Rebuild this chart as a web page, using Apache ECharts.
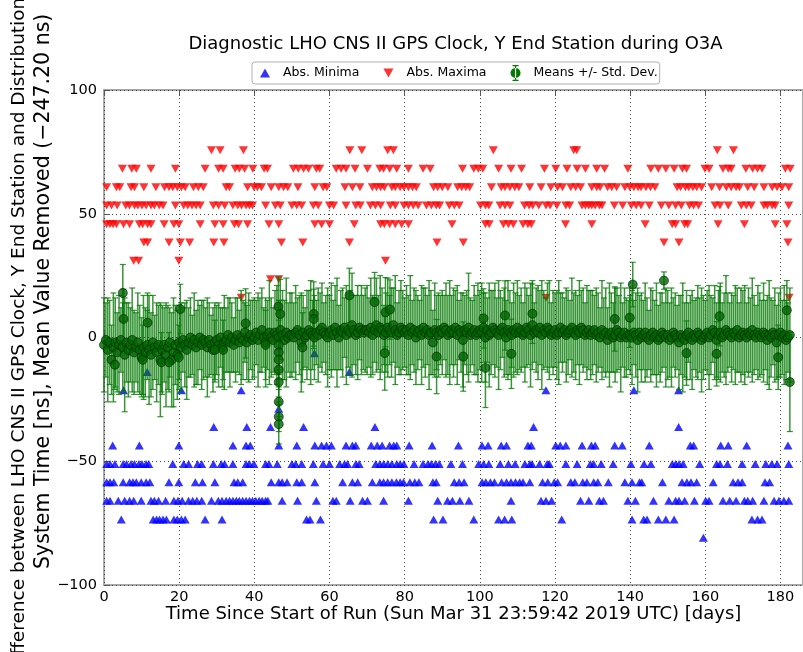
<!DOCTYPE html>
<html><head><meta charset="utf-8">
<script src="https://cdn.jsdelivr.net/npm/echarts@6/dist/echarts.min.js"></script>
<style>html,body{margin:0;padding:0;background:#fff}#c{width:803px;height:652px}</style>
</head><body><div id="c"></div><script>
// ---------- Absolute maxima: days at which a maximum sits on each quantised level (ns)
const maxDays16 = [36.5, 117.6, 182.3];
const maxDays23 = [44.3, 46.5];
const maxDays31 = [7.9, 9.2, 19.9, 74.9];
const maxDays38 = [10.6, 11.6, 17.3, 20.3, 22.8, 29.2, 31.9, 47.2, 52.9, 65.3, 88.6, 95.6, 149.0, 153.0, 182.0];
const maxDays46 = [0.7,1.6,2.4,3.3,5.2,6.8,9.4,10.3,11.6,12.5,16.0,18.6,19.9,25.6,29.5,31.7,34.7,35.8,38.2,43.9,46.5,56.1,57.9,60.0,66.6,73.6,74.6,76.0,77.5,79.2,81.0,92.6,101.5,102.5,106.3,107.6,108.9,111.5,112.8,113.7,122.8,129.8,144.0,151.2,152.1,154.5,155.3,163.4,170.4,178.6,181.7];
const maxDays53 = [0.7,2.0,3.5,5.8,6.8,8.1,9.0,10.1,11.2,12.5,13.4,14.7,15.7,19.0,21.2,22.3,23.4,24.5,25.6,29.1,30.5,32.1,34.3,35.6,36.6,37.8,38.7,39.5,43.0,45.6,46.9,50.0,51.3,52.6,55.7,57.0,60.0,61.1,64.4,67.0,68.2,70.9,72.2,73.6,76.2,77.5,79.8,81.0,82.3,83.6,85.8,87.1,88.4,89.3,91.9,93.2,94.5,100.2,101.5,102.4,105.4,106.7,108.0,111.9,113.1,114.1,115.7,117.6,118.7,120.5,122.9,123.9,127.2,128.1,129.0,129.8,130.7,131.8,132.5,135.8,138.0,140.3,141.6,142.9,145.1,148.3,150.3,152.1,153.6,155.8,156.9,158.2,162.6,163.9,166.1,169.6,170.9,172.2,175.6,176.5,177.8,178.6,182.2];
const maxDays61 = [0.7,3.3,4.2,7.2,8.1,10.6,13.8,16.1,17.3,18.3,19.5,20.6,21.6,23.8,25.1,26.4,32.5,33.4,38.2,39.9,40.8,41.9,44.5,46.5,47.8,48.9,51.6,56.1,58.3,59.3,64.1,66.1,68.1,71.4,72.5,73.6,74.6,76.6,77.5,78.8,79.8,81.0,82.1,83.1,87.7,88.8,90.0,91.5,94.1,95.2,96.3,97.3,103.1,105.7,106.7,108.0,109.3,110.4,113.3,116.3,118.9,120.7,122.0,124.2,125.5,126.8,129.8,131.1,132.0,134.0,135.1,136.4,138.6,139.9,141.0,142.1,142.9,144.2,145.4,146.6,152.5,153.4,154.7,155.6,156.7,157.7,159.0,161.7,163.8,165.6,166.9,168.2,169.1,171.3,173.0,175.6,177.8,179.1,180.4,182.2];
const maxDays68 = [4.9,7.4,8.6,12.5,19.0,26.9,30.5,31.7,34.9,36.0,37.4,39.6,42.6,43.5,50.4,51.7,53.1,54.4,56.5,57.4,61.8,63.1,64.4,66.8,70.1,73.4,74.4,76.0,77.9,81.0,84.9,86.8,95.4,98.4,99.6,100.8,105.0,108.3,111.1,117.2,120.2,123.2,125.9,128.1,131.1,133.2,139.4,145.5,147.5,149.5,151.7,153.9,155.0,159.9,161.0,164.7,166.1,166.9,170.8,172.6,173.9,175.1,181.3,182.6];
const maxDays76 = [28.6,30.9,37.1,65.4,68.6,75.5,77.0,103.6,125.0,125.8,163.2,167.5];
const maxLevels = [16.1, 23.5, 31.0, 38.4, 45.8, 53.3, 60.7, 68.2, 75.7];

// ---------- Absolute minima
const minDays81 = [159.5];
const minDays73 = [4.6,13.1,14.0,14.8,15.7,16.6,18.6,19.5,20.6,21.6,26.9,31.4,53.9,54.8,57.6,87.7,90.2,98.4,105.0,106.6,108.5,121.8,140.5,143.6,144.5,147.5,149.5,151.7,172.4,173.9,175.1];
const minDays66 = [0.7,1.6,3.8,5.5,6.8,7.9,9.9,12.5,13.4,14.5,16.4,18.6,19.7,20.8,22.5,23.6,24.7,26.0,28.6,30.4,31.4,32.5,33.4,34.3,35.2,36.0,36.9,37.8,38.7,39.5,40.4,41.3,42.1,43.0,43.6,47.4,51.5,56.5,60.9,61.8,65.5,68.8,70.1,74.4,81.0,88.8,91.4,92.7,94.7,97.1,108.3,116.3,117.6,119.1,126.8,129.0,131.8,132.9,139.4,141.4,146.2,150.3,152.1,153.0,154.5,157.1,160.1,161.0,164.7,166.5,168.2,170.4,171.3,172.6,175.6,178.3,179.6,180.9,182.2];
const minDays58 = [0.7,1.6,2.6,5.1,6.8,7.7,8.6,9.9,11.2,12.2,17.3,19.9,24.3,26.2,29.5,34.6,35.6,36.9,44.5,46.5,47.4,48.7,51.3,52.6,56.1,63.5,66.1,67.5,71.4,73.4,74.4,75.5,76.6,77.8,78.8,79.7,81.4,82.7,83.8,87.5,88.4,93.2,94.5,95.8,100.6,101.6,102.8,103.9,105.8,107.1,108.3,109.5,110.6,111.5,113.3,116.7,118.1,119.8,120.7,124.2,125.3,127.4,128.5,130.3,131.4,134.2,138.6,140.5,142.5,143.1,148.6,153.8,155.1,156.2,157.7,162.1,167.4,168.7,169.8,175.9,177.1];
const minDays51 = [0.7,1.6,2.9,5.1,6.0,7.2,8.1,9.3,10.1,11.2,11.9,18.3,21.2,22.5,24.9,26.0,29.1,31.2,32.1,34.3,37.8,38.7,39.9,43.0,43.9,46.1,50.0,51.0,52.6,55.7,58.3,60.0,62.7,64.0,64.8,67.0,67.9,72.3,73.4,74.4,75.5,76.6,77.9,78.8,79.8,82.5,84.9,86.2,87.1,88.2,89.2,92.3,95.4,99.7,101.0,102.4,105.4,107.6,109.4,112.0,113.3,113.9,115.9,117.9,118.5,122.9,125.9,129.4,130.3,132.3,135.5,140.2,143.7,145.5,151.2,152.1,153.0,154.1,158.5,163.0,163.9,165.9,169.8,173.3,176.1,177.7,179.1,182.2];
const minDays44 = [2.3,9.4,19.9,34.3,37.8,38.9,46.5,51.3,56.1,57.9,59.2,60.5,64.4,66.1,67.0,71.1,72.7,74.0,76.0,77.1,77.9,81.2,87.3,94.3,100.6,102.2,105.7,107.1,112.8,113.7,120.2,121.4,122.9,127.2,129.7,130.7,135.9,137.9,145.1,156.0,156.9,164.1,166.1,171.0,182.0];
const minDays36 = [29.2,38.0,44.3,53.1,72.1,114.3,152.9];
const minDays29 = [46.5];
const minDays21 = [5.2,20.6,36.5,117.6,141.0,152.9];
const minDays14 = [11.5,65.3];
const minDays6 = [56.0];
const minDays1 = [149.0];
const minLevels = [-80.9,-73.5,-66.0,-58.5,-51.1,-43.6,-36.2,-28.8,-21.3,-13.9,-6.4,1.0];

// ---------- Means and standard deviations, one sample every STEP days from day 0
const STEP = 0.5;
const means = [
-3,-1,-5,-2,-9,-4,-2,-6,-3,-1,-4,-7,-2,-5,-3,-1,-6,-4,-2,-5,
-8,-4,-6,-3,-5,-7,-2,-4,-6,-3,-9,-5,-3,-7,-4,-2,-9,-6,-3,-7,
-2,-4,-1,-3,-5,-2,0,-3,-1,-4,-2,0,-3,-1,-2,-4,-1,-3,-5,-2,
-1,-3,0,-4,-2,-1,1,-2,0,-3,-1,1,-2,0,-1,2,-2,0,1,-1,
0,2,-1,1,3,0,-2,1,2,0,-1,2,1,0,3,1,-1,2,0,1,
1,0,2,3,1,-2,2,0,1,3,2,1,0,2,1,3,4,2,1,0,
2,3,1,4,2,0,3,2,4,1,3,2,5,3,1,2,4,3,2,3,
3,2,4,1,3,5,2,4,3,1,2,4,3,2,5,3,1,2,4,3,
2,3,1,4,2,3,0,2,3,1,4,2,3,1,2,-2,3,2,1,3,
2,4,3,1,2,3,2,4,1,3,2,-1,3,2,4,1,2,3,1,2,
3,2,4,0,3,1,2,4,3,2,1,3,4,2,0,3,2,1,3,2,
4,2,3,1,2,4,3,1,5,2,3,2,4,1,3,2,4,3,1,2,
3,1,2,4,2,3,1,2,3,4,2,1,3,2,4,3,1,2,3,1,
2,3,1,2,0,3,1,2,-1,1,2,0,1,3,2,0,1,2,0,1,
1,0,2,1,-1,2,0,1,2,0,-1,1,2,0,1,-1,0,2,1,0,
1,-1,0,2,1,0,-2,1,0,-1,1,2,0,-1,1,0,2,1,-1,0,
1,2,0,1,3,2,-1,1,2,0,1,3,2,1,0,2,1,3,0,1,
2,1,0,2,1,3,1,0,2,1,0,2,1,-1,1,0,2,1,-2,1,
2,0,1,-1,0,1];
const stds = [
19,15,21,17,14,22,18,16,20,13,18,23,16,19,15,21,17,14,20,18,
16,21,18,14,22,17,19,13,20,16,23,18,15,21,17,14,19,22,16,18,
15,18,13,17,20,14,16,12,19,15,17,13,18,16,14,20,15,12,17,16,
14,17,12,16,19,13,15,18,14,11,17,15,13,19,16,12,15,18,14,16,
16,13,19,15,17,12,18,14,21,16,13,17,20,15,12,18,16,22,14,17,
17,14,19,13,16,20,15,12,18,16,21,14,17,13,19,15,18,12,16,20,
15,19,14,17,22,13,16,18,12,20,15,17,21,14,16,19,13,18,15,17,
18,14,20,16,13,19,15,21,17,12,16,20,14,18,15,22,13,17,19,16,
14,18,16,21,13,17,19,15,12,20,16,18,14,22,17,13,19,15,17,14,
17,13,19,16,21,14,18,15,20,12,16,19,14,17,22,15,13,18,16,20,
16,20,14,18,13,21,17,15,19,14,22,16,12,18,15,20,17,13,19,16,
19,15,17,13,20,16,14,21,18,12,17,19,15,22,16,14,18,20,13,17,
15,18,21,14,16,13,19,17,12,20,16,18,14,21,15,17,13,19,16,18,
17,14,19,16,12,20,15,18,13,21,16,14,19,17,15,22,13,18,16,14,
16,19,13,17,21,15,18,14,20,16,12,19,17,15,21,14,18,16,13,20,
18,15,20,14,17,13,19,16,22,15,18,12,17,20,14,16,19,15,21,17,
14,17,21,16,13,19,15,18,20,14,17,22,16,13,18,15,20,17,14,19,
17,20,14,18,15,21,16,13,19,17,15,20,14,18,22,16,13,19,15,17,
18,15,20,16,14,19];
// individual outlying samples
const extraDays  = [5.0,5.2,2.9,10.3,15.3,17.3,19.9,20.3,11.6,29.5,31.7,37.7,43.0,46.4,46.9,46.5,46.5,46.5,46.5,46.5,46.5,46.5,46.5,52.8,55.8,55.8,65.3,72.0,74.9,76.1,74.7,88.5,95.6,101.0,101.5,106.7,108.4,114.0,135.9,139.9,140.7,149.0,155.0,163.0,163.8,179.4,181.7,182.5];
const extraMeans = [18,7.5,-11,-9,-10,-10,-8,11.5,6,-5,-5,5.7,-3,12.5,9.5,-3,-6,-9,-13,-18,-26,-32,-35,-4,9.5,7.5,17,14.3,10.2,11.3,-6.3,-7.7,-7.7,7.7,-12.3,8.9,-6.6,9.6,7.5,8,21.4,23,-6.3,-6.6,8.6,-8,11,-18];
const extraStds  = [11.5,12,10,14,12,12,13,10,12,12,12,14,14,12,14,10,8,8,8,6,6,6,8,14,13,12,11,12,14,12,15,15,14,12,16,14,14,12,13,12,9,3.5,13,13,12,13,12,20];

const xTicks = {min:0, max:186, interval:20, lastLabel:180};
const yTicks = {min:-100, max:100, interval:50};

// ---------- build series data
function rows(levels, dayLists){
  const out = [];
  levels.forEach((lv,i)=>dayLists[i].forEach(d=>out.push([d, lv])));
  return out;
}
const maxData = rows(maxLevels,[maxDays16,maxDays23,maxDays31,maxDays38,maxDays46,maxDays53,maxDays61,maxDays68,maxDays76]);
const minData = rows(minLevels,[minDays81,minDays73,minDays66,minDays58,minDays51,minDays44,minDays36,minDays29,minDays21,minDays14,minDays6,minDays1]);
const meanData = [], errData = [];
means.forEach((m,i)=>{const t=i*STEP; meanData.push([t,m]); errData.push([t,m-stds[i],m+stds[i]]);});
extraDays.forEach((t,i)=>{meanData.push([t,extraMeans[i]]); errData.push([t,extraMeans[i]-extraStds[i],extraMeans[i]+extraStds[i]]);});

const FONT = '"DejaVu Sans", sans-serif';
const chart = echarts.init(document.getElementById('c'));
chart.setOption({
  animation:false,
  backgroundColor:'#fff',
  grid:{left:104, top:90, height:495, width:711, show:true, borderColor:'#a8a8a8', borderWidth:2, containLabel:false},
  legend:{
    left:252, top:62, orient:'horizontal',
    borderColor:'#b0b0b0', borderWidth:1, borderRadius:3, padding:[3,2,3,8],
    itemGap:24, itemWidth:10, itemHeight:16, symbolKeepAspect:true,
    textStyle:{fontFamily:FONT, fontSize:12.5, color:'#000', padding:[0,0,0,8]},
    data:[
      {name:'Abs. Minima', icon:'path://M5,0L10,9L0,9Z'},
      {name:'Abs. Maxima', icon:'path://M0,0L10,0L5,9Z'},
      {name:'Means +/- Std. Dev.', icon:'path://M2,0H8V1.2H2ZM4.4,0H5.6V16H4.4ZM2,14.8H8V16H2ZM5,3A5,5 0 1 0 5.001,3Z'}
    ]
  },
  xAxis:[{
    type:'value', min:xTicks.min, max:xTicks.max, interval:xTicks.interval,
    axisLine:{show:false},
    axisTick:{show:true, inside:true, length:6, lineStyle:{color:'#555'}},
    axisLabel:{fontFamily:FONT, fontSize:14.5, color:'#000', margin:5, showMaxLabel:false,
      formatter:v=>(v%xTicks.interval===0 && v<=xTicks.lastLabel) ? String(v) : ''},
    splitLine:{show:true, lineStyle:{type:[1,3], color:'#444', width:1}},
    name:'Time Since Start of Run (Sun Mar 31 23:59:42 2019 UTC) [days]',
    nameLocation:'middle', nameGap:20, nameMoveOverlap:false,
    nameTextStyle:{fontFamily:FONT, fontSize:18, color:'#000', verticalAlign:'top'}
  },{
    type:'value', position:'top', min:xTicks.min, max:xTicks.max, interval:xTicks.interval,
    axisLine:{show:false}, axisLabel:{show:false}, splitLine:{show:false},
    axisTick:{show:true, inside:true, length:6, lineStyle:{color:'#555'}}
  }],
  yAxis:{
    type:'value', min:yTicks.min, max:yTicks.max, interval:yTicks.interval,
    axisLine:{show:false},
    axisTick:{show:true, inside:true, length:6, lineStyle:{color:'#555'}},
    axisLabel:{fontFamily:FONT, fontSize:14.5, color:'#000', margin:7,
      formatter:v=>v<0 ? '\u2212'+Math.abs(v) : String(v)},
    splitLine:{show:true, lineStyle:{type:[1,3], color:'#444', width:1}}
  },
  graphic:[
    {type:'text', x:455.5, y:44, z:10,
     style:{text:'Diagnostic LHO CNS II GPS Clock, Y End Station during O3A', font:'18px "DejaVu Sans"', fill:'#000', textAlign:'center', textVerticalAlign:'middle', verticalAlign:'middle'}},
    {type:'text', x:19, y:336, rotation:Math.PI/2, z:10,
     style:{text:'Difference between LHO CNS II GPS Clock, Y End Station and Distribution', font:'18.5px "DejaVu Sans"', fill:'#000', textAlign:'center', textVerticalAlign:'middle', verticalAlign:'middle'}},
    {type:'text', x:44, y:569, rotation:Math.PI/2, z:10,
     style:{text:'System Time [ns], Mean Value Removed (\u2212247.20 ns)', font:'20.5px "DejaVu Sans"', fill:'#000', textAlign:'left', textVerticalAlign:'middle', verticalAlign:'middle'}}
  ],
  series:[
    {name:'Abs. Minima', type:'scatter', data:minData, symbol:'triangle', symbolSize:[9,8],
     itemStyle:{color:'#0000ff'}, z:2, silent:true},
    {name:'Abs. Maxima', type:'scatter', data:maxData, symbol:'triangle', symbolRotate:180, symbolSize:[9,8],
     itemStyle:{color:'#ff0000'}, z:2, silent:true},
    {name:'Means +/- Std. Dev.', type:'custom', data:errData, z:3, silent:true,
     itemStyle:{color:'#007a00'},
     encode:{x:0, y:[1,2]},
     renderItem:(params, api)=>{
       const t=api.value(0), lo=api.coord([t,api.value(1)]), hi=api.coord([t,api.value(2)]);
       const c='rgba(0,120,0,0.78)', hw=3;
       return {type:'group', children:[
         {type:'line', shape:{x1:lo[0],y1:lo[1],x2:hi[0],y2:hi[1]}, style:{stroke:c, lineWidth:1.5}},
         {type:'line', shape:{x1:lo[0]-hw,y1:lo[1],x2:lo[0]+hw,y2:lo[1]}, style:{stroke:c, lineWidth:1.2}},
         {type:'line', shape:{x1:hi[0]-hw,y1:hi[1],x2:hi[0]+hw,y2:hi[1]}, style:{stroke:c, lineWidth:1.2}}
       ]};
     }},
    {name:'Means +/- Std. Dev.', type:'scatter', data:meanData, symbol:'circle', symbolSize:9,
     itemStyle:{color:'#006600', borderColor:'#002200', borderWidth:0.8}, z:4, silent:true}
  ]
});
</script></body></html>
